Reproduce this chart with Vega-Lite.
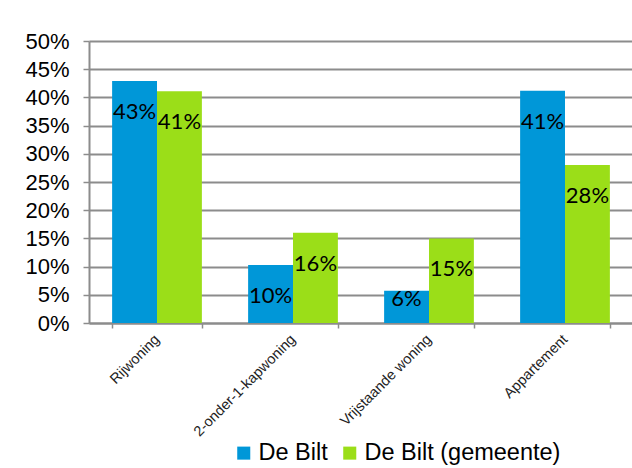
{
  "$schema": "https://vega.github.io/schema/vega-lite/v6.json",
  "width": 544,
  "height": 282,
  "autosize": "none",
  "padding": {"left": 89, "top": 41, "right": 0, "bottom": 145},
  "background": "white",
  "config": {
    "view": {"stroke": null},
    "font": "Liberation Sans"
  },
  "data": {
    "values": [
      {"type": "Rijwoning", "series": "De Bilt", "value": 0.429},
      {"type": "Rijwoning", "series": "De Bilt (gemeente)", "value": 0.411},
      {"type": "2-onder-1-kapwoning", "series": "De Bilt", "value": 0.103},
      {"type": "2-onder-1-kapwoning", "series": "De Bilt (gemeente)", "value": 0.160},
      {"type": "Vrijstaande woning", "series": "De Bilt", "value": 0.057},
      {"type": "Vrijstaande woning", "series": "De Bilt (gemeente)", "value": 0.150},
      {"type": "Appartement", "series": "De Bilt", "value": 0.412},
      {"type": "Appartement", "series": "De Bilt (gemeente)", "value": 0.280}
    ]
  },
  "encoding": {
    "x": {
      "field": "type",
      "type": "nominal",
      "sort": ["Rijwoning", "2-onder-1-kapwoning", "Vrijstaande woning", "Appartement"],
      "scale": {"paddingInner": 0.34, "paddingOuter": 0.17},
      "axis": {
        "title": null,
        "labelAngle": -45,
        "labelAlign": "right",
        "labelBaseline": "middle",
        "labelFontSize": 14.5,
        "labelColor": "#222222",
        "labelPadding": 9,
        "labelLimit": 0,
        "tickBand": "extent",
        "tickSize": 5,
        "tickColor": "#8c8c8c",
        "tickWidth": 1.5,
        "domainColor": "#8c8c8c",
        "domainWidth": 2,
        "grid": false
      }
    },
    "xOffset": {
      "field": "series",
      "type": "nominal",
      "sort": ["De Bilt", "De Bilt (gemeente)"],
      "scale": {"paddingInner": 0, "paddingOuter": 0}
    },
    "y": {
      "field": "value",
      "type": "quantitative",
      "scale": {"domain": [0, 0.5], "nice": false},
      "axis": {
        "title": null,
        "format": ".0%",
        "values": [0, 0.05, 0.1, 0.15, 0.2, 0.25, 0.3, 0.35, 0.4, 0.45, 0.5],
        "labelFontSize": 22,
        "labelColor": "#000000",
        "labelPadding": 14,
        "tickSize": 6,
        "tickColor": "#8c8c8c",
        "tickWidth": 1.5,
        "domainColor": "#8c8c8c",
        "domainWidth": 2,
        "gridColor": "#8c8c8c",
        "gridWidth": 2
      }
    }
  },
  "layer": [
    {
      "mark": {"type": "bar"},
      "encoding": {
        "color": {
          "field": "series",
          "type": "nominal",
          "sort": ["De Bilt", "De Bilt (gemeente)"],
          "scale": {"domain": ["De Bilt", "De Bilt (gemeente)"], "range": ["#0097D8", "#9BDE18"]},
          "legend": {
            "title": null,
            "orient": "none",
            "direction": "horizontal",
            "legendX": 143,
            "legendY": 400,
            "symbolType": "square",
            "symbolSize": 170,
            "symbolStrokeWidth": 0,
            "labelFontSize": 23.5,
            "labelColor": "#000000",
            "labelOffset": 3,
            "labelLimit": 0,
            "columnPadding": 10
          }
        }
      }
    },
    {
      "transform": [{"filter": "datum.value >= 0.08"}],
      "mark": {"type": "text", "baseline": "middle", "dy": 31, "fontSize": 22, "font": "Lato", "color": "#000000"},
      "encoding": {
        "text": {"field": "value", "type": "quantitative", "format": ".0%"}
      }
    },
    {
      "transform": [{"filter": "datum.value < 0.08"}],
      "mark": {"type": "text", "baseline": "middle", "dy": 8, "fontSize": 22, "font": "Lato", "color": "#000000"},
      "encoding": {
        "text": {"field": "value", "type": "quantitative", "format": ".0%"}
      }
    }
  ]
}
